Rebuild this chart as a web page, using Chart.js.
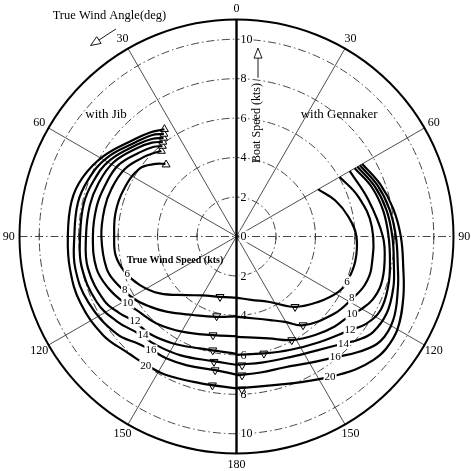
<!DOCTYPE html>
<html><head><meta charset="utf-8">
<script src="https://cdn.jsdelivr.net/npm/chart.js@4/dist/chart.umd.min.js"></script>
<style>html,body{margin:0;padding:0;background:#fff;}#wrap{width:471px;height:471px;}</style>
</head><body><div id="wrap"><canvas id="c" width="471" height="471"></canvas></div>
<script>
// ---- data: [true wind angle (deg), boat speed (kts)] ----
const trueWindSpeeds = ['6','8','10','12','14','16','20'];

const jib6  = [[44.4,5.15],[48,5.5],[55,6.0],[68,6.2],[79,6.25],[90,6.2],[99,6.2],[107.5,5.94],[116.7,5.48],[126.6,4.84],[139.6,3.9],[150,3.45],[164.7,3.17],[180,3.1]];
const jib8  = [[41.3,5.77],[45,5.97],[50,6.22],[59,6.62],[69,6.78],[78,6.84],[90,6.85],[104,6.78],[112,6.5],[121,6.1],[129,5.65],[137,5.21],[151,4.55],[166,4.2],[180,4.05]];
const jib10 = [[39.3,5.93],[43,6.2],[49,6.5],[59,7.0],[69,7.15],[78,7.25],[90,7.28],[103,7.28],[112,7.0],[120,6.63],[126.4,6.29],[137.4,5.99],[150.8,5.54],[166.6,5.14],[180,5.05]];
const jib12 = [[37.9,6.08],[42,6.4],[48,6.72],[59,7.28],[69,7.5],[78,7.6],[90,7.63],[102,7.7],[116,7.45],[123,7.1],[130,6.73],[138.7,6.6],[149.4,6.3],[161.9,5.97],[180,5.95]];
const jib14 = [[36.5,6.22],[41,6.55],[47,6.85],[59,7.5],[69,7.78],[78,7.92],[90,7.93],[101,8.0],[115,7.83],[125,7.45],[134.5,7.0],[143.7,6.84],[154.5,6.66],[169.4,6.43],[180,6.5]];
const jib16 = [[35.3,6.37],[40,6.7],[47,7.0],[59,7.7],[69,8.05],[78,8.22],[90,8.22],[101,8.33],[114,8.22],[129,7.83],[138,7.35],[143,7.19],[150,7.13],[159,7.0],[171,6.86],[180,7.0]];
const jib20 = [[33.9,6.55],[40,6.87],[47,7.17],[59,7.88],[69,8.35],[78,8.55],[90,8.55],[101,8.6],[113,8.6],[126.5,8.41],[136.5,8.08],[145,7.95],[153.4,7.87],[166,7.66],[180,7.7]];

const gen6  = [[60,4.78],[70,5.33],[80,5.76],[90,6.08],[102,6.15],[112.3,6.05],[118.5,5.88],[128.6,5.31],[140.2,4.64],[154,3.68],[167,3.3],[180,3.1]];
const gen8  = [[60,6.04],[72,6.5],[86,6.88],[103,7.02],[110.7,6.95],[118.1,6.66],[128.6,6.3],[143,5.63],[150.4,4.98],[158,4.57],[167.3,4.26],[180,4.07]];
const gen10 = [[60,6.63],[74.5,6.94],[90,7.42],[100,7.62],[108.5,7.72],[115,7.6],[120,7.33],[123.9,7.05],[132.5,6.75],[141.4,6.39],[151.9,5.95],[162.6,5.41],[180,5.09]];
const gen12 = [[60,6.92],[70,7.3],[80,7.55],[90,7.71],[100,7.9],[108,8.09],[117,8.2],[124,7.92],[129.5,7.46],[142,6.8],[155,6.35],[167,6.08],[180,6.0]];
const gen14 = [[60,7.08],[70,7.45],[80,7.72],[90,7.9],[100,8.1],[108,8.36],[117,8.55],[125,8.45],[130,8.12],[135,7.67],[144.3,7.09],[156,6.69],[168,6.52],[180,6.5]];
const gen16 = [[60,7.22],[70,7.6],[80,7.88],[90,8.08],[100,8.3],[108,8.6],[118,9.0],[126,9.02],[133,8.55],[140.7,7.9],[150,7.4],[159.6,7.07],[170,7.0],[180,7.03]];
const gen20 = [[60,7.36],[70,7.75],[80,8.07],[90,8.33],[100,8.58],[110,9.0],[120,9.42],[127,9.48],[132,9.35],[138,9.05],[146.3,8.55],[156,8.08],[164,7.81],[180,7.7]];

const jibCurves = [jib6, jib8, jib10, jib12, jib14, jib16, jib20];
const genCurves = [gen6, gen8, gen10, gen12, gen14, gen16, gen20];

const jibUpwindMarks   = [[44.4,5.1],[41.3,5.77],[39.3,5.93],[37.9,6.08],[36.5,6.22],[35.3,6.37],[33.9,6.55]];
const jibDownwindMarks = [[164.7,3.17],[166,4.16],[166.6,5.14],[168.2,5.89],[169.8,6.45],[170.9,6.86],[170.8,7.64]];
const genDownwindMarks = [[140.2,4.64],[143.1,5.62],[151.9,5.95],[166.8,6.09],[177.5,6.53],[177.7,7.04],[178,7.75]];

const jibLabelAt = [[108.7,5.84],[115.6,6.28],[121.5,6.46],[129.8,6.7],[136.5,6.89],[143,7.21],[144.8,7.98]];
const genLabelAt = [[112.3,6.05],[118.1,6.63],[123.9,7.05],[129.5,7.46],[135,7.67],[140.7,7.9],[146.3,8.55]];

const angleTicks = [0,30,60,90,120,150,180];
const speedTicks = [0,2,4,6,8,10];
const speedMax = 11;

// ---- helpers ----
function P(side, twa, v){ const a = twa*Math.PI/180; return {x: side*v*Math.sin(a), y: v*Math.cos(a)}; }

const datasets = [];
jibCurves.forEach(c => datasets.push({data: c.map(p=>P(-1,p[0],p[1])), showLine:true, borderColor:'#000', borderWidth:2.2, pointRadius:0, tension:0.4, fill:false}));
genCurves.forEach(c => datasets.push({data: c.map(p=>P(1,p[0],p[1])), showLine:true, borderColor:'#000', borderWidth:2.2, pointRadius:0, tension:0.4, fill:false}));
const markStyle = {showLine:false, pointStyle:'triangle', pointRadius:4.6, pointBackgroundColor:'#fff', pointBorderColor:'#000', pointBorderWidth:1};
datasets.push(Object.assign({data: jibUpwindMarks.map(p=>P(-1,p[0],p[1])), pointRotation:0}, markStyle));
datasets.push(Object.assign({data: jibDownwindMarks.map(p=>P(-1,p[0],p[1])), pointRotation:180}, markStyle));
datasets.push(Object.assign({data: genDownwindMarks.map(p=>P(1,p[0],p[1])), pointRotation:180}, markStyle));

const SERIF = '"Liberation Serif","Times New Roman",serif';

function labelBox(ctx, text, x, y, font){
  ctx.font = font;
  const w = ctx.measureText(text).width;
  ctx.fillStyle = '#fff';
  ctx.fillRect(x - w/2 - 1, y - 5.5, w + 2, 11);
  ctx.fillStyle = '#000';
  ctx.textAlign = 'center'; ctx.textBaseline = 'middle';
  ctx.fillText(text, x, y + 0.5);
}

function hollowArrow(ctx, x0, y0, x1, y1){
  const ang = Math.atan2(y1-y0, x1-x0), L = 10, H = 4;
  const bx = x1 - L*Math.cos(ang), by = y1 - L*Math.sin(ang);
  ctx.beginPath(); ctx.moveTo(x0,y0); ctx.lineTo(bx,by); ctx.stroke();
  ctx.beginPath();
  ctx.moveTo(x1,y1);
  ctx.lineTo(bx + H*Math.sin(ang), by - H*Math.cos(ang));
  ctx.lineTo(bx - H*Math.sin(ang), by + H*Math.cos(ang));
  ctx.closePath(); ctx.fillStyle='#fff'; ctx.fill(); ctx.stroke();
}

const polarFrame = {
  id:'polarFrame',
  beforeDatasetsDraw(chart){
    const ctx = chart.ctx, xs = chart.scales.x, ys = chart.scales.y;
    const cx = xs.getPixelForValue(0), cy = ys.getPixelForValue(0);
    const u = xs.getPixelForValue(1) - cx;
    ctx.save();
    ctx.strokeStyle = '#333'; ctx.lineWidth = 0.9; ctx.setLineDash([8,3,1.5,3]);
    speedTicks.filter(v=>v>0).forEach(v=>{ ctx.beginPath(); ctx.arc(cx,cy,v*u,0,Math.PI*2); ctx.stroke(); });
    ctx.beginPath(); ctx.moveTo(cx - speedMax*u, cy); ctx.lineTo(cx + speedMax*u, cy); ctx.stroke();
    ctx.setLineDash([]);
    ctx.lineWidth = 1;
    speedTicks.filter(v=>v>0).forEach(v=>{ [-1,1].forEach(s=>{ ctx.beginPath(); ctx.moveTo(cx+s*v*u, cy-3); ctx.lineTo(cx+s*v*u, cy+3); ctx.stroke(); }); });
    ctx.lineWidth = 0.8; ctx.strokeStyle = '#222';
    [30,60,120,150].forEach(a=>{ [-1,1].forEach(s=>{ const p = P(s,a,speedMax); ctx.beginPath(); ctx.moveTo(cx,cy); ctx.lineTo(xs.getPixelForValue(p.x), ys.getPixelForValue(p.y)); ctx.stroke(); }); });
    ctx.strokeStyle = '#000'; ctx.lineWidth = 2;
    ctx.beginPath(); ctx.arc(cx,cy,speedMax*u,0,Math.PI*2); ctx.stroke();
    const f = '12px ' + SERIF;
    speedTicks.forEach(v=>{
      [1,-1].forEach(s=>{
        if (v===0 && s===-1) return;
        ctx.font = f;
        const t = String(v), w = ctx.measureText(t).width;
        const x = cx + 4, y = ys.getPixelForValue(s*v);
        ctx.fillStyle='#fff'; ctx.fillRect(x-1, y-6, w+2, 12);
        ctx.fillStyle='#000'; ctx.textAlign='left'; ctx.textBaseline='middle';
        ctx.fillText(t, x, y+0.5);
      });
    });
    ctx.restore();
  },
  afterDatasetsDraw(chart){
    const ctx = chart.ctx, xs = chart.scales.x, ys = chart.scales.y;
    const X = v=>xs.getPixelForValue(v), Y = v=>ys.getPixelForValue(v);
    const cx = X(0);
    ctx.save();
    ctx.strokeStyle='#000'; ctx.lineWidth=2.4;
    ctx.beginPath(); ctx.moveTo(cx, Y(speedMax)); ctx.lineTo(cx, Y(-speedMax)); ctx.stroke();
    const lf = '11px ' + SERIF;
    trueWindSpeeds.forEach((t,i)=>{
      let p = P(-1, jibLabelAt[i][0], jibLabelAt[i][1]); labelBox(ctx, t, X(p.x), Y(p.y), lf);
      p = P(1, genLabelAt[i][0], genLabelAt[i][1]); labelBox(ctx, t, X(p.x), Y(p.y), lf);
    });
    ctx.font = '12px ' + SERIF; ctx.fillStyle='#000'; ctx.textAlign='center'; ctx.textBaseline='middle';
    angleTicks.forEach(a=>{
      const sides = (a===0||a===180) ? [1] : [-1,1];
      sides.forEach(s=>{ const p = P(s,a,11.55); ctx.fillText(String(a), X(p.x), Y(p.y)); });
    });
    ctx.font = '12.5px ' + SERIF;
    ctx.fillText('True Wind Angle(deg)', X(-6.44), Y(11.18));
    ctx.font = '13px ' + SERIF;
    ctx.fillText('with Jib', X(-6.61), Y(6.16));
    ctx.fillText('with Gennaker', X(5.2), Y(6.16));
    ctx.font = 'bold 10px ' + SERIF;
    ctx.fillText('True Wind Speed (kts)', X(-3.12), Y(-1.19));
    ctx.save();
    ctx.translate(X(1.04), Y(5.75)); ctx.rotate(-Math.PI/2);
    ctx.font = '12px ' + SERIF; ctx.fillText('Boat Speed (kts)', 0, 0);
    ctx.restore();
    ctx.strokeStyle='#000'; ctx.lineWidth=0.9;
    hollowArrow(ctx, X(-6.11), Y(10.52), X(-7.4), Y(9.68));
    hollowArrow(ctx, X(1.09), Y(8.05), X(1.09), Y(9.55));
    ctx.restore();
  }
};

new Chart(document.getElementById('c'), {
  type:'scatter',
  data:{datasets},
  options:{
    responsive:false, animation:false, devicePixelRatio:1,
    layout:{padding:{left:19.5, right:17.5, top:19.5, bottom:17.5}},
    scales:{ x:{type:'linear', min:-speedMax, max:speedMax, display:false}, y:{type:'linear', min:-speedMax, max:speedMax, display:false} },
    plugins:{legend:{display:false}, tooltip:{enabled:false}}
  },
  plugins:[polarFrame]
});
</script></body></html>
